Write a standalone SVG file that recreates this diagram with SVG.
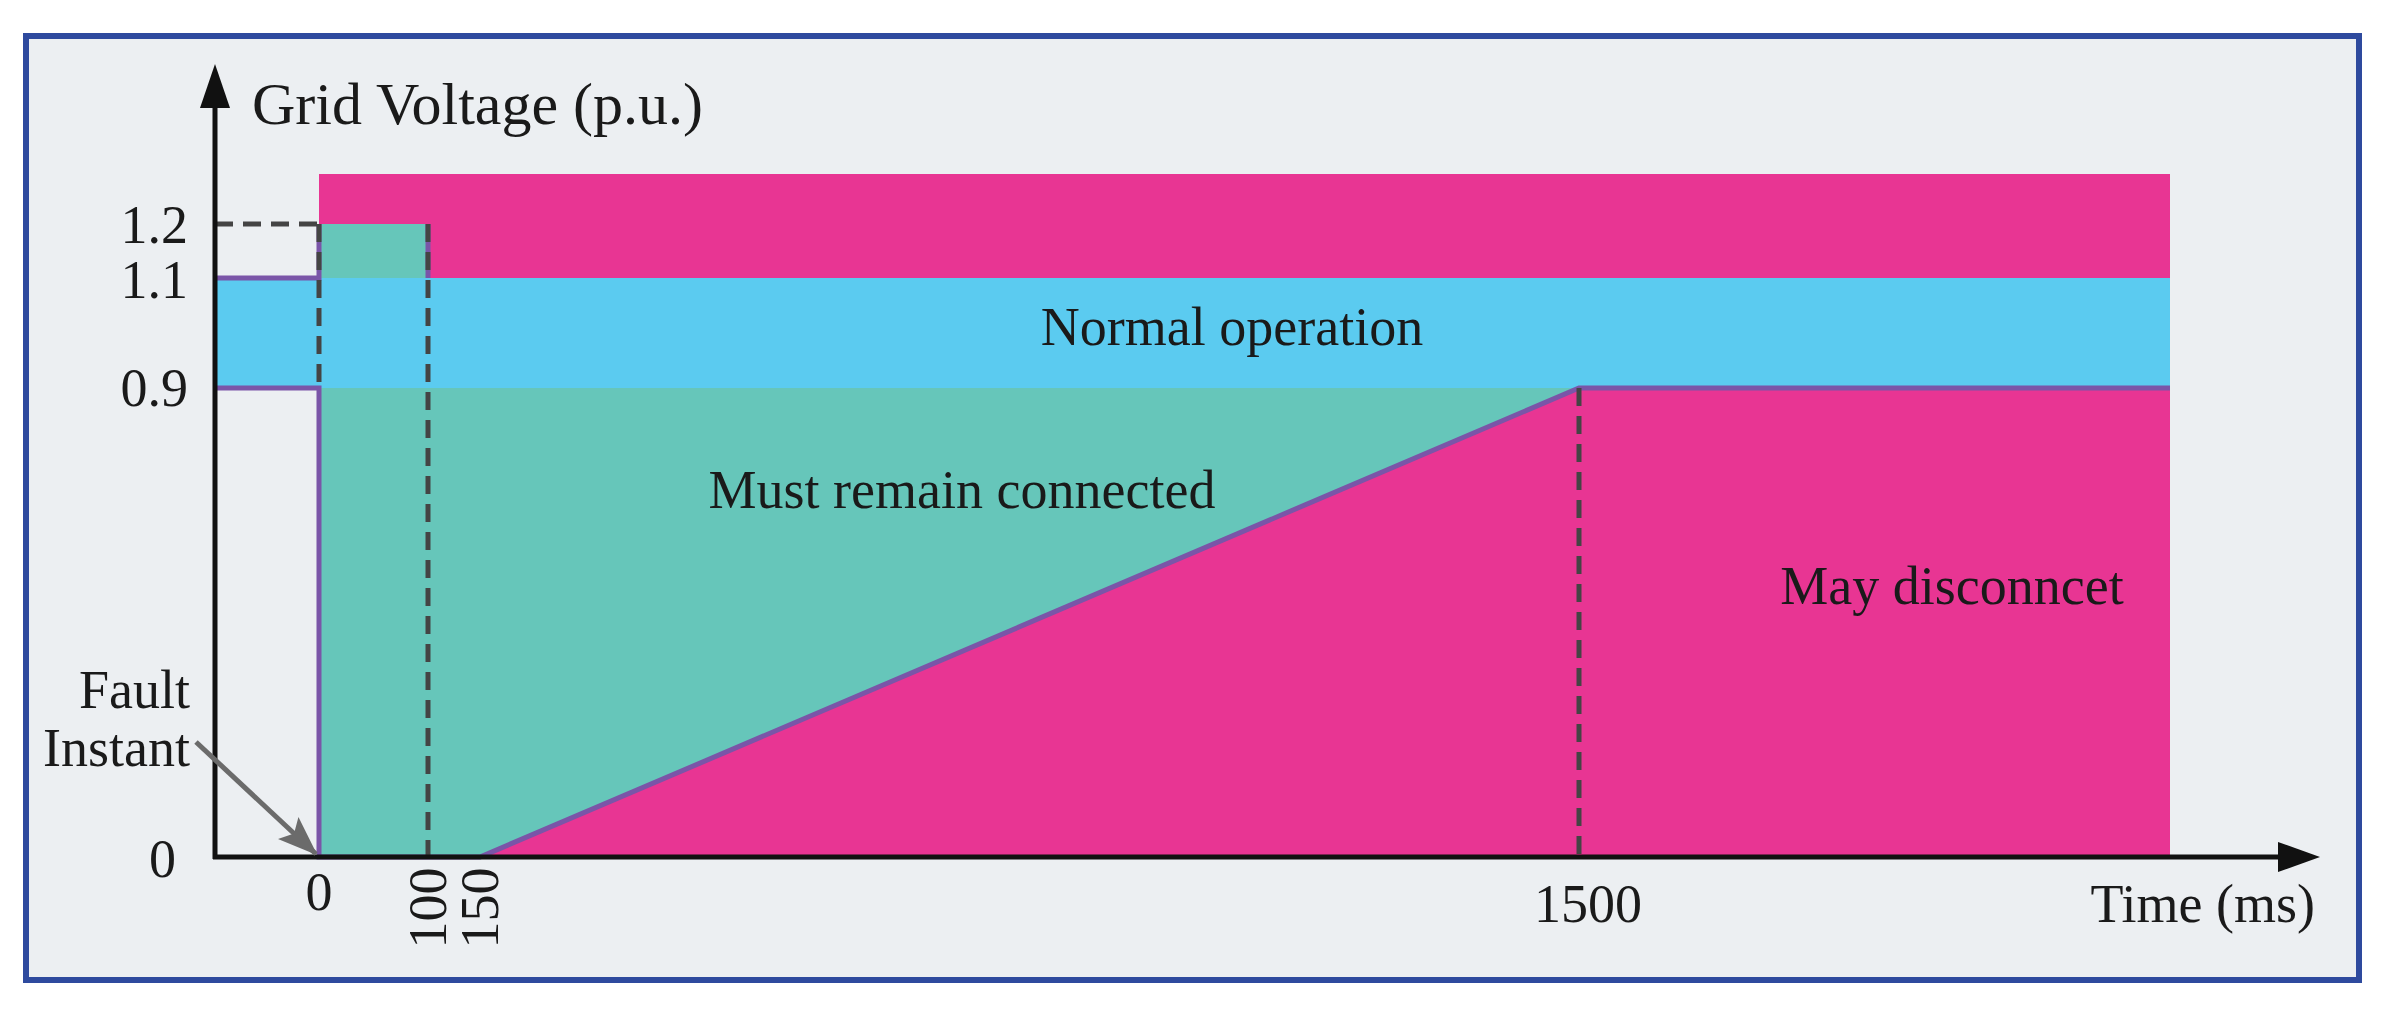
<svg xmlns="http://www.w3.org/2000/svg" width="2383" height="1017" viewBox="0 0 2383 1017">
<defs>
<style>
text{font-family:"Liberation Serif","Times New Roman",serif;fill:#1a1a1a}
.t{font-size:54px}
.d{stroke:#444;stroke-width:5;stroke-dasharray:18 10;fill:none}
.p{stroke:#7a55a8;stroke-width:5;fill:none}
</style>
<marker id="ga" markerWidth="40" markerHeight="30" refX="38" refY="15" orient="auto" markerUnits="userSpaceOnUse"><path d="M0,0L40,15L0,30L8,15z" fill="#6b6b6b"/></marker>
</defs>
<rect x="0" y="0" width="2383" height="1017" fill="#ffffff"/>
<rect x="26" y="36" width="2333" height="944" fill="#eceff2" stroke="#2e4a9e" stroke-width="6"/>
<g id="regions">
<rect x="319" y="174" width="1851" height="683" fill="#e83593"/>
<polygon points="319,224 428,224 428,278 319,278" fill="#66c6ba"/>
<polygon points="319,388 1579,388 480,857 319,857" fill="#66c6ba"/>
<rect x="215" y="278" width="1955" height="110" fill="#5bcbf0"/>
</g>
<g id="connectors">
<polyline class="p" points="215,278 319,278 319,224"/>
<line class="p" x1="428" y1="224" x2="428" y2="278"/>
<polyline class="p" points="215,388 319,388 319,857 480,857 1579,388 2170,388"/>
<line class="d" x1="215" y1="224" x2="319" y2="224"/>
<line class="d" x1="319" y1="224" x2="319" y2="388"/>
<line class="d" x1="428" y1="224" x2="428" y2="857"/>
<line class="d" x1="1579" y1="388" x2="1579" y2="857"/>
<line x1="215" y1="859" x2="215" y2="100" stroke="#111" stroke-width="5"/>
<line x1="213" y1="857" x2="2285" y2="857" stroke="#111" stroke-width="5"/>
<line x1="196" y1="742" x2="316" y2="854" stroke="#6b6b6b" stroke-width="5" marker-end="url(#ga)"/>
<polygon points="215,64 200,108 230,108" fill="#111"/>
<polygon points="2320,857 2278,842 2278,872" fill="#111"/>
</g>
<g id="labels">
<text x="252" y="124" font-size="60">Grid Voltage (p.u.)</text>
<text class="t" x="188" y="243" text-anchor="end" font-size="58">1.2</text>
<text class="t" x="188" y="298" text-anchor="end" font-size="58">1.1</text>
<text class="t" x="188" y="406" text-anchor="end" font-size="58">0.9</text>
<text class="t" x="176" y="877" text-anchor="end" font-size="58">0</text>
<text class="t" x="319" y="910" text-anchor="middle" font-size="58">0</text>
<text class="t" transform="translate(446,908) rotate(-90)" text-anchor="middle">100</text>
<text class="t" transform="translate(498,908) rotate(-90)" text-anchor="middle">150</text>
<text class="t" x="1588" y="922" text-anchor="middle">1500</text>
<text class="t" x="2315" y="922" text-anchor="end">Time (ms)</text>
<text class="t" x="190" y="708" text-anchor="end">Fault</text>
<text class="t" x="190" y="766" text-anchor="end">Instant</text>
<text class="t" x="1232" y="345" text-anchor="middle">Normal operation</text>
<text class="t" x="962" y="508" text-anchor="middle">Must remain connected</text>
<text class="t" x="1952" y="604" text-anchor="middle">May disconncet</text>
</g>
</svg>
